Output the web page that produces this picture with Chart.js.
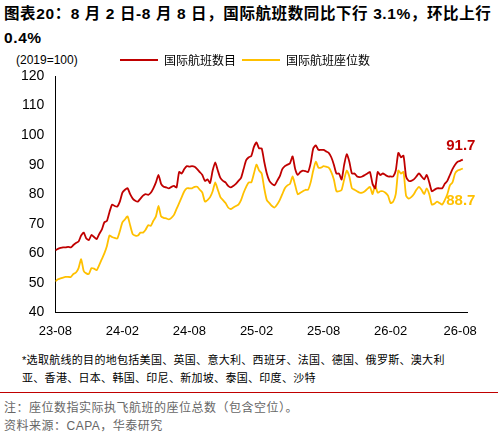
<!DOCTYPE html><html><head><meta charset="utf-8">
<script src="https://cdn.jsdelivr.net/npm/chart.js@4"></script>
<style>
body{margin:0;width:498px;height:436px;background:#fff;font-family:"Liberation Sans","Noto Sans CJK SC",sans-serif;position:relative;overflow:hidden}
#t{position:absolute;left:4px;top:2px;width:494px;font-weight:bold;font-size:15.5px;line-height:24px;letter-spacing:0.6px;color:#000}
#u{position:absolute;left:16px;top:53px;font-size:12px}
#c{position:absolute;left:0;top:48px;width:480px;height:294px}
.f{position:absolute;left:22px;font-size:11px;color:#000;letter-spacing:0.3px}
.g{position:absolute;left:4px;font-size:12px;color:#666;letter-spacing:0.5px}
#hr{position:absolute;left:0;top:392px;width:498px;border-top:1px solid #c00000}
</style></head><body>
<div id="t">图表20：8 月 2 日-8 月 8 日，国际航班数同比下行 3.1%，环比上行<br>0.4%</div>
<div id="u">(2019=100)</div>
<div id="c"><canvas id="cv"></canvas></div>
<div class="f" style="top:351px">*选取航线的目的地包括美国、英国、意大利、西班牙、法国、德国、俄罗斯、澳大利</div>
<div class="f" style="top:369px">亚、香港、日本、韩国、印尼、新加坡、泰国、印度、沙特</div>
<div id="hr"></div>
<div class="g" style="top:398px">注：座位数指实际执飞航班的座位总数（包含空位）。</div>
<div class="g" style="top:416px">资料来源：CAPA，华泰研究</div>
<script>
const tickLabels=['23-08','24-02','24-08','25-02','25-08','26-02','26-08'];
const tickWeeks=[0,26,52,78,104,130,157];
const flights=[61,61.5,61.8,62,62,62.2,62,62.8,63.5,64,66,67,65,64.5,66.2,65.5,64.8,66.5,68,70.5,71,74,76.5,76,75.8,77.5,80.5,81.5,82,80,78.5,77.8,77.5,78.5,79.5,80,79.8,80.5,82,84,86.5,83.5,82.5,82.3,82,82.5,82.8,82.3,87.5,87,88.5,89.5,89.3,89.5,89.3,88.5,87.5,86.5,84.5,85,83.8,88,90.8,88,85.5,84.5,84,82.8,82.3,82.8,83.5,84.5,85.5,88.5,91.5,92.5,93,96,97.5,95.5,95.5,91,87,84.5,83.5,83,84.5,86,88.5,89.5,90,90.5,92.8,88.5,86.5,87.5,88,87.8,87.5,90.5,95.5,96.5,95,95,95,94.5,94,92.5,90,87,87,85,90,93.5,91,87,87,86,85.8,86,86.5,87,87.5,83.5,82,87.5,86.5,87,86.5,86,86,86,88,94,92.5,93,86,84.5,84.5,85,86,87,86,85,86.5,84,81,81.5,82,82,82,83.5,84.5,86.5,88.5,90,91,91.3,91.7];
const seats=[50.5,51.2,51.5,51.8,52,52,52,53,53.5,55,58,54,53.2,53,55,54.8,54.3,56,58,60,62.5,66,65.5,65.2,65,67.5,70.5,71.5,72.5,69.5,66.5,66,66,67,67,68,69.5,69.3,71,72.5,76,72.5,72,71.8,71.5,72,73,75,77,79,81,82,82,82,82.5,82.5,81.5,80.5,77.5,78,79,81,84,81.5,79,78,77,75.5,75,75.5,76,76.5,78,80.5,82.5,84,84,87,90,88,87,82,78,77,76,75.5,76.5,78,80,82,83,83.5,86,83,80,80.5,81,81.5,81.5,84,88,91,89,89,89.5,89.3,89,87.5,85,81,81,81.5,85,88,86,82,81.5,81,80.5,80.5,81,81.8,82.5,80,83,80.5,81,81,80.5,79.5,77,77.5,80,88,87,87.5,79.5,78.5,79,80,81.5,82.5,81.5,80,82,80,76.5,76.8,77.5,77,76.5,78,80,83,84,87,88,88.3,88.7];
const names=['国际航班数目','国际航班座位数'];
const RED='#c00000',YEL='#ffc000';
const pts=a=>a.map((v,i)=>({x:i,y:v}));
const endLabels={id:'el',afterDatasetsDraw(ch){const c=ch.ctx;c.save();c.font='bold 15px "Liberation Sans",sans-serif';c.textAlign='center';
ch.data.datasets.forEach((d,k)=>{const m=ch.getDatasetMeta(k);const p=m.data[m.data.length-1];c.fillStyle=d.borderColor;c.fillText(String(d.data[d.data.length-1].y),p.x-2,k==0?p.y-14:p.y+32);});c.restore();}};
new Chart(document.getElementById('cv'),{type:'line',data:{datasets:[
{label:names[0],data:pts(flights),borderColor:RED,borderWidth:1.8,pointRadius:0,tension:0.2},
{label:names[1],data:pts(seats),borderColor:YEL,borderWidth:1.8,pointRadius:0,tension:0.2}]},
options:{animation:false,responsive:true,maintainAspectRatio:false,
layout:{padding:{left:18,right:8,top:0,bottom:0}},
plugins:{legend:{position:'top',labels:{boxWidth:38,boxHeight:0,font:{size:12,family:'"Noto Sans CJK SC"'},color:'#000',padding:6},onClick:null},tooltip:{enabled:false}},
scales:{x:{type:'linear',min:0,max:160,grid:{display:false,drawTicks:true},border:{color:'#000'},
afterBuildTicks:s=>{s.ticks=tickWeeks.map(v=>({value:v}));},
ticks:{autoSkip:false,maxRotation:0,color:'#000',font:{size:13},callback:(v,i)=>tickLabels[i]}},
y:{min:40,max:120,grid:{display:false},border:{color:'#000'},ticks:{stepSize:10,color:'#000',font:{size:14}}}}},
plugins:[endLabels]});
</script></body></html>
